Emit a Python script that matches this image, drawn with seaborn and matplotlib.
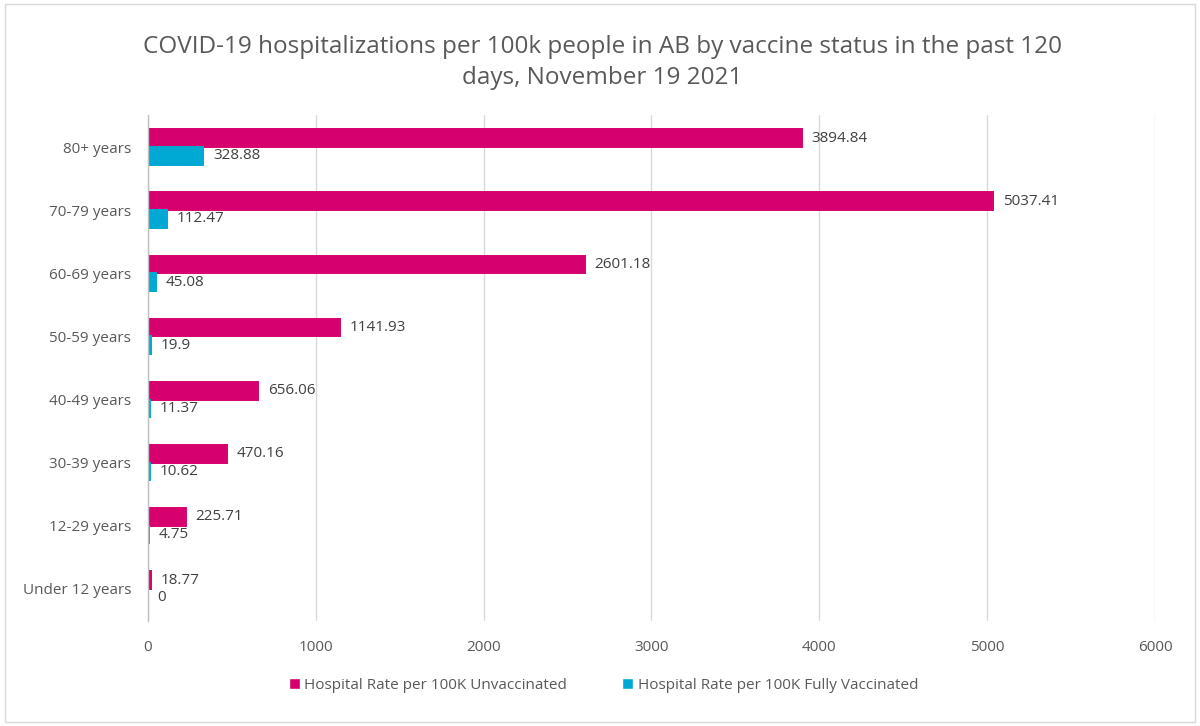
import matplotlib
matplotlib.use("Agg")
import matplotlib.pyplot as plt
import seaborn as sns
import pandas as pd
from matplotlib.patches import Rectangle

categories = ["80+ years", "70-79 years", "60-69 years", "50-59 years",
              "40-49 years", "30-39 years", "12-29 years", "Under 12 years"]
unvaccinated = [3894.84, 5037.41, 2601.18, 1141.93, 656.06, 470.16, 225.71, 18.77]
vaccinated = [328.88, 112.47, 45.08, 19.9, 11.37, 10.62, 4.75, 0]
series_names = ["Hospital Rate per 100K Unvaccinated", "Hospital Rate per 100K Fully Vaccinated"]
x_ticks = [0, 1000, 2000, 3000, 4000, 5000, 6000]
title = "COVID-19 hospitalizations per 100k people in AB by vaccine status in the past 120\ndays, November 19 2021"

df = pd.DataFrame({
    "age": categories * 2,
    "rate": unvaccinated + vaccinated,
    "series": [series_names[0]] * len(categories) + [series_names[1]] * len(categories),
})

sns.set_theme(style="white")
plt.rcParams["font.family"] = ["Open Sans", "DejaVu Sans"]

fig = plt.figure(figsize=(12, 7.26), dpi=100)
ax = fig.add_axes([0.1233, 0.1453, 0.8392, 0.6957])

colors = ["#D6006E", "#00A9D4"]
sns.barplot(data=df, x="rate", y="age", hue="series", order=categories,
            hue_order=series_names, palette=colors, orient="h",
            width=0.56, gap=0, ax=ax, legend=True, saturation=1)

# give very small non-zero bars a minimal visible width, like the reference
for cont in ax.containers:
    for patch in cont:
        if patch.get_width() > 0:
            patch.set_edgecolor(patch.get_facecolor())
            patch.set_linewidth(1.4)

ax.set_xlim(0, 6000)
ax.set_xticks(x_ticks)
ax.xaxis.grid(True, color="#D9D9D9", linewidth=1)
ax.set_axisbelow(True)
for s in ["top", "right", "bottom"]:
    ax.spines[s].set_visible(False)
ax.spines["left"].set_color("#BFBFBF")
ax.spines["left"].set_linewidth(1)
ax.tick_params(axis="both", length=0, labelsize=11, colors="#595959")
ax.tick_params(axis="y", pad=12)
ax.tick_params(axis="x", pad=14)
ax.set_xlabel("")
ax.set_ylabel("")

label_sets = [unvaccinated, vaccinated]
for cont, vals in zip(ax.containers, label_sets):
    labels = [f"{v:g}" for v in vals]
    ax.bar_label(cont, labels=labels, padding=7, fontsize=11, color="#404040")

fig.suptitle(title, x=0.502, y=0.952, fontsize=17.5, color="#595959",
             linespacing=1.4, va="top")

handles, lbls = ax.get_legend_handles_labels()
ax.get_legend().remove()
fig.legend(handles, lbls, loc="center", bbox_to_anchor=(0.503, 0.056), ncol=2,
           frameon=False, fontsize=11, labelcolor="#595959",
           handlelength=0.7, handleheight=0.7, handletextpad=0.3, columnspacing=3.6)

fig.patches.append(Rectangle((0.004, 0.006), 0.992, 0.988, transform=fig.transFigure,
                             fill=False, edgecolor="#D9D9D9", linewidth=1))

fig.savefig("out.png", dpi=100)
